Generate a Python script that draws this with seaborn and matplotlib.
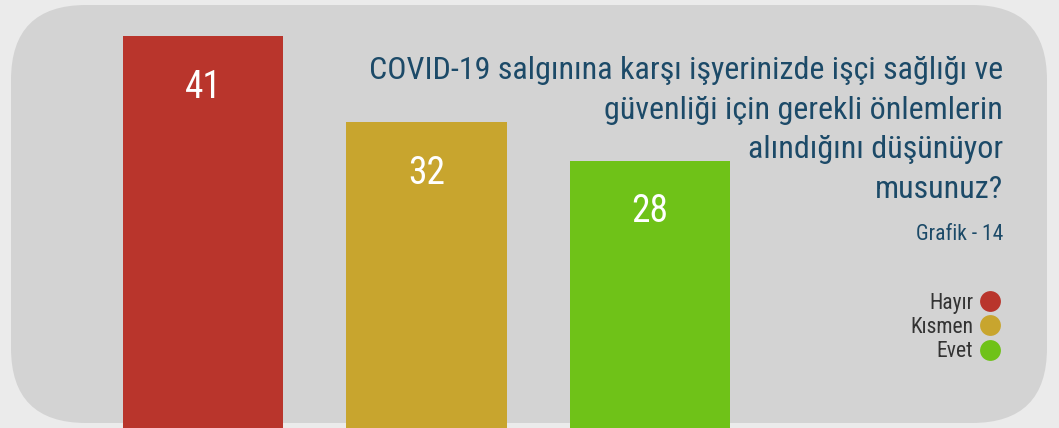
import matplotlib
matplotlib.use("Agg")
import matplotlib.pyplot as plt
import seaborn as sns
from matplotlib.patches import FancyBboxPatch
from matplotlib.lines import Line2D
from matplotlib.transforms import IdentityTransform
from matplotlib import font_manager

categories = ["Hayır", "Kısmen", "Evet"]
values = [41, 32, 28]
colors = ["#B9352C", "#C8A52E", "#6FC218"]
title_lines = "COVID-19 salgınına karşı işyerinizde işçi sağlığı ve\ngüvenliği için gerekli önlemlerin\nalındığını düşünüyor\nmusunuz?"
subtitle = "Grafik - 14"

names = {f.name for f in font_manager.fontManager.ttflist}
narrow = None
for cand in ["Liberation Sans Narrow", "DejaVu Sans Condensed", "Roboto Condensed", "Open Sans Condensed"]:
    if cand in names:
        narrow = cand
        break
if narrow is None:
    narrow = "DejaVu Sans"

sns.set_theme(style="white")
plt.rcParams["font.family"] = [narrow, "DejaVu Sans"]

W, H = 1059, 428
fig = plt.figure(figsize=(W / 100, H / 100), dpi=100)
fig.patch.set_facecolor("#EBEBEB")

panel = FancyBboxPatch((11, 5), 1036, 418, boxstyle="round,pad=0,rounding_size=75",
                       transform=IdentityTransform(), facecolor="#D3D3D3",
                       edgecolor="none", zorder=-10)
fig.patches.append(panel)

ax = fig.add_axes([0, 0, 1, 1])
ax.set_zorder(1)
ax.set_facecolor("none")
sns.barplot(x=categories, y=values, hue=categories, palette=colors, legend=False,
            width=0.716, saturation=1, ax=ax, edgecolor="none")
spacing = 223.5
ax.set_xlim(-203 / spacing, (W - 203) / spacing)
ax.set_ylim(0, H / 9.55)
ax.axis("off")

for i, v in enumerate(values):
    ax.annotate(str(v), (i, v), xytext=(0, -37), textcoords="offset points",
                ha="center", va="center", color="white", fontsize=27)

fig.text(1003 / W, 1 - 56 / H, title_lines, ha="right", va="top", color="#1C4A68",
         fontsize=23, linespacing=1.46, zorder=5)
fig.text(1003 / W, 1 - 234 / H, subtitle, ha="right", va="center", color="#1C4A68",
         fontsize=15.5, zorder=5)

handles = [Line2D([], [], marker="o", linestyle="none", markersize=15,
                  markerfacecolor=c, markeredgecolor="none") for c in colors]
leg = ax.legend(handles, categories, markerfirst=False, frameon=False,
                loc="upper right", bbox_to_anchor=(1012 / W, 1 - 282 / H),
                bbox_transform=fig.transFigure, fontsize=15.5, labelspacing=0.15,
                handletextpad=0.3, handlelength=1.0, borderpad=0)
for t in leg.get_texts():
    t.set_color("#333333")

fig.savefig("out.png", dpi=100, facecolor=fig.get_facecolor())
